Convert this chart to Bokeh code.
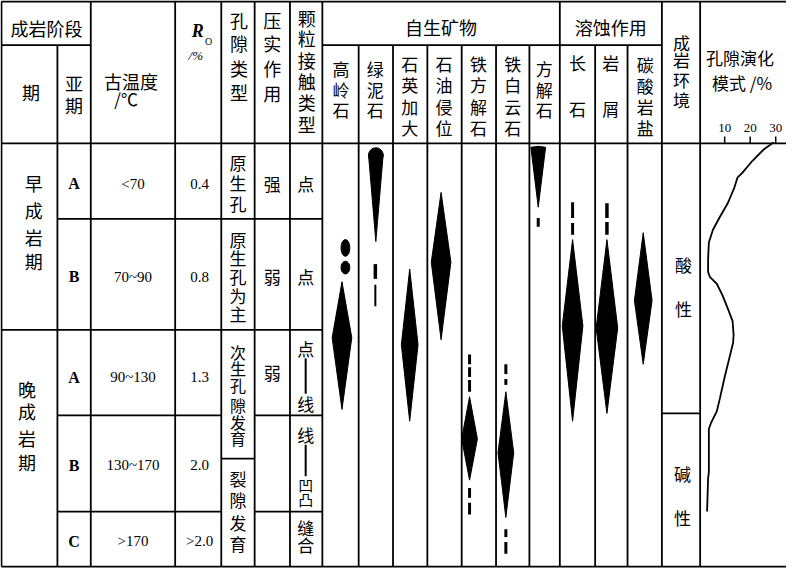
from bokeh.plotting import figure
from bokeh.models import Range1d, ColumnDataSource
from bokeh.core.properties import value
from bokeh.embed import file_html
from bokeh.resources import INLINE

# ---------------- data ----------------
stages = ["早成岩期", "晚成岩期"]
substages = ["A", "B", "A", "B", "C"]
paleo_temp = ["<70", "70~90", "90~130", "130~170", ">170"]
ro_values = ["0.4", "0.8", "1.3", "2.0", ">2.0"]
pore_types = ["原生孔", "原生孔为主", "次生孔隙发育", "裂隙发育"]
compaction = ["强", "弱", "弱"]
minerals = ["高岭石", "绿泥石", "石英加大", "石油侵位", "铁方解石", "铁白云石", "方解石"]
dissolution = ["长石", "岩屑", "碳酸岩盐"]
environment = ["酸性", "碱性"]
por_ticks = [10, 20, 30]
# porosity (%) versus position along the diagenetic sequence (table units)
por_pct = [29.2, 25.4, 20.8, 16.9, 15.0, 13.8, 11.2, 8.1, 5.4, 3.8, 3.5, 3.5, 4.2, 6.9,
           9.2, 11.2, 13.1, 13.5, 13.3, 11.9, 10.0, 8.1, 6.9, 4.6, 3.8, 3.8, 3.8, 3.5, 3.1]
por_depth = [151, 158, 170, 182, 187, 197, 213, 227, 240, 253, 270, 283, 288, 295,
             307, 320, 333, 347, 355, 370, 390, 412, 425, 437, 443, 463, 487, 493, 527]
# occurrence lenses of authigenic minerals / dissolution (table units)
lens_cx = [355, 389.5, 424, 456, 485, 522, 555, 590, 625, 662]
lens_top = [293, 157, 280, 202, 410, 405, 155, 250, 250, 243]
lens_mid = [350, 163, 357, 273, 453, 467, 156, 338, 340, 312]
lens_bot = [423, 252, 435, 352, 495, 533, 217, 435, 427, 377]
lens_w = [20, 15, 17, 20, 16, 16, 15, 21, 22, 18]
# weak occurrences (dashes)
dash_x = [389, 389, 555, 485, 485, 485, 485, 485, 522, 522, 522, 522, 590, 590, 625, 625]
dash_y0 = [275, 296, 228, 367, 380, 393, 503, 518, 377, 392, 545, 558, 212, 233, 213, 232]
dash_y1 = [290, 318, 237, 377, 390, 405, 513, 530, 387, 398, 553, 570, 228, 245, 228, 245]
dash_w = [3.5, 2, 3, 3, 3, 3, 3, 3, 3, 3, 3, 3, 3, 3, 3.5, 3.5]
dot_x = [358.5, 358.5]
dot_y = [258.5, 278.5]
dot_h = [17, 13]

CJK = "Noto Sans CJK SC"
SERIF = "Liberation Serif"

XMAX = 808
p = figure(width=786, height=568, x_range=Range1d(7, XMAX), y_range=Range1d(585, 6.5),
           output_backend="svg", toolbar_location=None, min_border=0,
           min_border_left=0, min_border_right=0, min_border_top=0, min_border_bottom=0)
p.axis.visible = False
p.xgrid.visible = False
p.ygrid.visible = False
p.outline_line_color = None
p.background_fill_color = "white"

# porosity sub-scale: 0 % at the column edge, 2.6 units per %
X0, K = 719.0, 2.6
p.extra_x_ranges = {"por": Range1d((7 - X0) / K, (XMAX - X0) / K)}

# ---------------- table grid ----------------
H = [(7.5, 8, XMAX), (52, 8, 99), (52, 335, 681), (152, 8, XMAX), (229, 65, 335),
     (342, 8, 335), (429, 65, 232), (429, 266, 335), (473, 232, 266),
     (527, 65, 232), (527, 266, 335), (427, 681, 720), (583, 8, XMAX)]
V = [(8, 7.5), (65, 52), (99, 7.5), (185, 7.5), (232, 7.5), (266, 7.5), (302, 7.5),
     (335, 7.5), (372, 52), (407, 52), (442, 52), (477, 52), (512, 52), (546, 52),
     (577, 7.5), (613, 52), (646, 52), (681, 7.5), (720, 7.5)]
p.segment(x0=[h[1] for h in H], x1=[h[2] for h in H], y0=[h[0] for h in H], y1=[h[0] for h in H],
          line_color="black", line_width=1.8)
p.segment(x0=[v[0] for v in V], x1=[v[0] for v in V], y0=[v[1] for v in V], y1=[583] * len(V),
          line_color="black", line_width=1.8)

# ---------------- lenses ----------------
xs, ys = [], []
for cx, t, m, b, w in zip(lens_cx, lens_top, lens_mid, lens_bot, lens_w):
    xs.append([cx, cx + w / 2, cx, cx - w / 2])
    ys.append([t, m, b, m])
p.patches(xs, ys, fill_color="black", line_color="black", line_width=1)
# rounded head of chlorite
p.ellipse(x=[lens_cx[1]], y=[lens_top[1] + 7], width=[lens_w[1]], height=[15],
          fill_color="black", line_color="black")
p.segment(x0=dash_x, x1=dash_x, y0=dash_y0, y1=dash_y1, line_color="black", line_width=dash_w)
p.ellipse(x=dot_x, y=dot_y, width=[9, 9], height=dot_h, fill_color="black", line_color="black")

# ---------------- porosity curve ----------------
p.line(por_pct, por_depth, x_range_name="por", line_color="black", line_width=1.8)
p.segment(x0=por_ticks, x1=por_ticks, y0=[145] * 3, y1=[152] * 3, x_range_name="por",
          line_color="black", line_width=1.5)
p.text(x=por_ticks, y=[136] * 3, text=[str(t) for t in por_ticks], x_range_name="por",
       text_font=value(SERIF), text_font_size="13px", text_align="center",
       text_baseline="middle", text_color="black")

# ---------------- texts ----------------
texts = []


def T(x, y, s, size=18, font=CJK, style="normal", align="center"):
    texts.append((x, y, s, size, font, style, align))


def VT(x, ys_, s, size=18):
    for c, yy in zip(s, ys_):
        T(x, yy, c, size)


# header
T(54, 35, "成岩阶段")
T(38, 100, "期")
VT(82, [91, 113], "亚期")
T(140, 88, "古温度")
T(123, 106, "/℃", 17, align="left")
T(208, 38, "R", 18, SERIF, "bold italic")
T(219, 48, "O", 10, SERIF)
T(206, 63, "/%", 13, SERIF, "italic")
VT(250, [26, 50, 75, 100], "孔隙类型")
VT(284, [26, 50, 75, 101], "压实作用")
VT(319, [24, 45, 67, 88, 110, 132], "颗粒接触类型")
T(456, 33, "自生矿物")
T(629, 33, "溶蚀作用")
col_x = [354, 389, 424, 459, 494, 529, 561]
for name, cx in zip(minerals, col_x):
    if len(name) == 3:
        VT(cx, [76, 97, 118], name, 17)
    else:
        VT(cx, [71, 92, 114, 136], name, 17)
VT(595, [70, 117], dissolution[0], 17)
VT(629, [70, 117], dissolution[1], 17)
VT(664, [72, 93, 114, 136], dissolution[2], 17)
VT(701, [49, 67, 87, 107], "成岩环境", 17)
T(726, 65, "孔隙演化", 17, align="left")
T(732, 90, "模式 /%", 17, align="left")

# body
VT(41, [192, 220, 247, 272], stages[0])
VT(34, [402, 425, 452, 477], stages[1])
row_y = [193, 288, 390, 480, 557]
for s, yy in zip(substages, row_y):
    T(82, yy, s, 16, SERIF, "bold")
for s, yy in zip(paleo_temp, row_y):
    T(142, yy, s, 15, SERIF)
for s, yy in zip(ro_values, row_y):
    T(210, yy, s, 15, SERIF)
VT(249, [172, 192, 213], pore_types[0], 17)
VT(249, [250, 268, 288, 307, 325], pore_types[1], 17)
VT(249, [364, 381, 398, 418, 436, 452], pore_types[2], 16)
VT(249, [493, 515, 538, 560], pore_types[3], 17)
for s, yy in zip(compaction, [193, 288, 385]):
    T(284, yy, s, 17)
T(318, 193, "点", 17)
T(318, 288, "点", 17)
T(318, 361, "点", 17)
T(318, 417, "线", 17)
T(318, 449, "线", 17)
T(318, 499, "凹", 15)
T(318, 515, "凸", 15)
VT(318, [543, 561], "缝合", 17)
p.segment(x0=[318, 318], x1=[318, 318], y0=[371, 459], y1=[407, 491], line_color="black", line_width=2)
VT(703, [275, 320], environment[0], 17)
VT(702, [488, 533], environment[1], 17)

groups = {}
for x, y, s, size, font, style, align in texts:
    groups.setdefault((size, font, style, align), []).append((x, y, s))
for (size, font, style, align), items in groups.items():
    src = ColumnDataSource(dict(x=[i[0] for i in items], y=[i[1] for i in items],
                                t=[i[2] for i in items]))
    p.text(x="x", y="y", text="t", source=src, text_font=value(font),
           text_font_size=f"{size}px", text_font_style=style, text_align=align,
           text_baseline="middle", text_color="black")

open("out.html", "w").write(file_html(p, INLINE))
